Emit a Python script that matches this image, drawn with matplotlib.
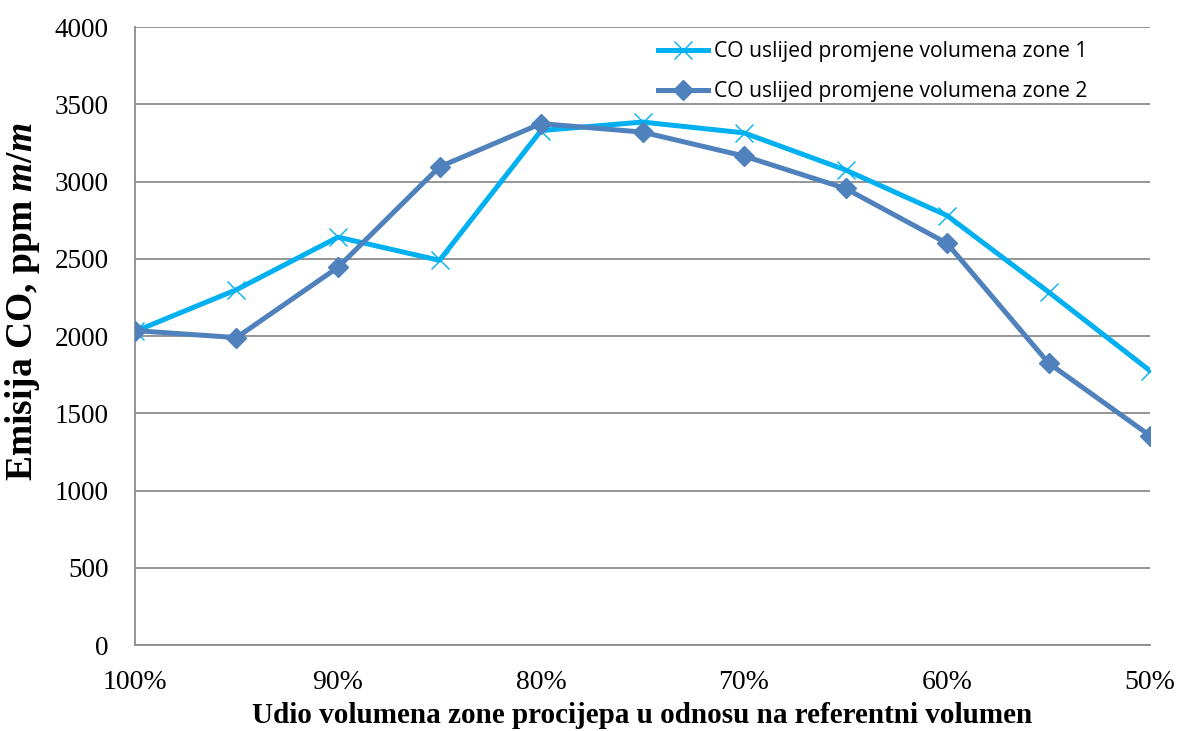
import matplotlib.pyplot as plt

plt.rcParams['mathtext.fontset'] = 'custom'
plt.rcParams['mathtext.it'] = 'Liberation Serif:italic:bold'
plt.rcParams['mathtext.rm'] = 'Liberation Serif:bold'

# Share of gap-zone volume relative to reference volume (%)
volume_share = [100, 95, 90, 85, 80, 75, 70, 65, 60, 55, 50]
tick_share = [100, 90, 80, 70, 60, 50]

# CO emission, ppm m/m
co_zone1 = [2030, 2300, 2640, 2490, 3330, 3385, 3315, 3075, 2780, 2285, 1775]
co_zone2 = [2035, 1990, 2445, 3095, 3375, 3320, 3165, 2955, 2600, 1825, 1355]

labels = ["CO uslijed promjene volumena zone 1",
          "CO uslijed promjene volumena zone 2"]

fig = plt.figure(figsize=(11.81, 7.31), dpi=100)
ax = fig.add_axes([0.1143, 0.1176, 0.8595, 0.8454])

ax.plot(volume_share, co_zone1, color='#00B0F0', lw=3.6, marker='x',
        ms=13, mew=1.0, label=labels[0], zorder=3)
ax.plot(volume_share, co_zone2, color='#4F81BD', lw=3.6, marker='D',
        ms=10.5, label=labels[1], zorder=4)

ax.set_xlim(100, 50)
ax.set_ylim(0, 4000)
ax.set_yticks(range(0, 4001, 500))
ax.set_xticks(tick_share)
ax.set_xticklabels([f"{v}%" for v in tick_share])

ax.yaxis.grid(True, color='#8c8c8c', lw=1.3)
ax.set_axisbelow(True)
for side in ('top', 'right'):
    ax.spines[side].set_visible(False)
for side in ('left', 'bottom'):
    ax.spines[side].set_color('#8c8c8c')
    ax.spines[side].set_linewidth(1.3)

ax.tick_params(axis='both', length=0)
ax.tick_params(axis='y', pad=19, labelsize=19.5)
ax.tick_params(axis='x', pad=18, labelsize=20)
for t in ax.get_xticklabels() + ax.get_yticklabels():
    t.set_fontfamily('Liberation Serif')

ax.set_xlabel("Udio volumena zone procijepa u odnosu na referentni volumen",
              fontfamily='Liberation Serif', fontweight='bold', fontsize=21,
              labelpad=5)
ax.set_ylabel(r"Emisija CO, ppm $\mathit{m/m}$",
              fontfamily='Liberation Serif', fontweight='bold', fontsize=27)
ax.yaxis.set_label_coords(-0.092, 0.555)

leg = ax.legend(loc='upper right', bbox_to_anchor=(0.938, 0.977), frameon=False,
                prop={'family': 'Open Sans', 'size': 15.2}, handlelength=2.4,
                handletextpad=0.25, labelspacing=0.9, borderaxespad=0,
                borderpad=0)

plt.savefig('out.png', dpi=100)
